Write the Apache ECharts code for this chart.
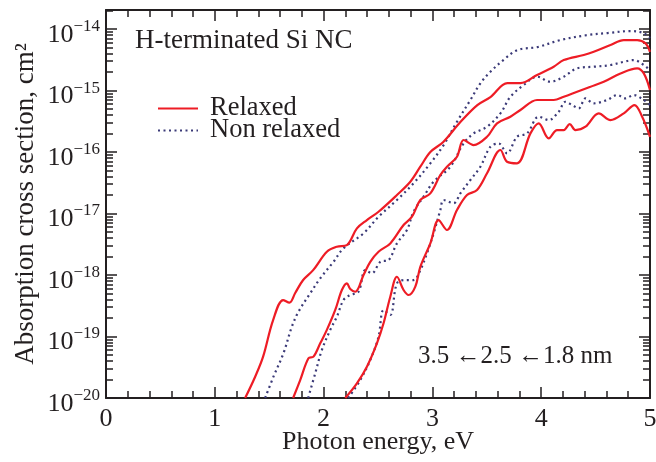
<!DOCTYPE html>
<html><head><meta charset="utf-8">
<script src="https://cdn.jsdelivr.net/npm/echarts@6/dist/echarts.min.js"></script>
<style>html,body{margin:0;padding:0;background:#fff}#c{width:656px;height:462px}</style>
</head><body><div id="c"></div>
<script>
// ---- data (photon energy eV, absorption cross section cm^2) ----
const relaxed35_x = [1.279,1.371,1.444,1.536,1.628,1.686,1.739,1.812,1.904,2.030,2.122,2.214,2.306,2.398,2.505,2.674,2.797,2.889,2.981,3.100,3.257,3.413,3.533,3.689,3.809,3.962,4.115,4.207,4.391,4.483,4.637,4.759,4.882,4.959,5.0];
const relaxed35_y = [1.0e-20,2.22e-20,4.70e-20,1.85e-19,3.92e-19,3.55e-19,5.10e-19,8.29e-19,1.20e-18,2.39e-18,2.89e-18,3.07e-18,5.74e-18,7.83e-18,1.07e-17,2.00e-17,3.29e-17,5.77e-17,1.00e-16,1.46e-16,3.08e-16,5.81e-16,7.83e-16,1.32e-15,1.32e-15,1.79e-15,2.44e-15,3.13e-15,3.78e-15,4.27e-15,5.50e-15,6.62e-15,6.62e-15,5.85e-15,4.27e-15];
const nonrel35_x = [1.463,1.539,1.631,1.708,1.769,1.877,1.969,2.091,2.183,2.367,2.505,2.674,2.827,2.981,3.103,3.226,3.349,3.441,3.533,3.652,3.781,3.965,4.177,4.425,4.609,4.821,4.940,5.0];
const nonrel35_y = [1.0e-20,2.22e-20,5.33e-20,1.44e-19,2.53e-19,5.04e-19,8.83e-19,1.64e-18,2.72e-18,4.76e-18,8.87e-18,1.66e-17,3.10e-17,6.55e-17,1.30e-16,3.11e-16,7.02e-16,1.31e-15,2.02e-15,3.13e-15,4.56e-15,5.09e-15,6.62e-15,7.98e-15,8.61e-15,9.27e-15,8.61e-15,7.14e-15];
const relaxed25_x = [1.720,1.785,1.861,1.907,1.969,2.030,2.107,2.168,2.214,2.245,2.291,2.367,2.429,2.505,2.613,2.735,2.812,2.889,2.981,3.073,3.134,3.226,3.287,3.379,3.502,3.594,3.717,3.809,3.962,4.115,4.207,4.330,4.453,4.575,4.729,4.882,4.943,5.0];
const relaxed25_y = [1.0e-20,1.96e-20,4.43e-20,4.70e-20,7.74e-20,1.28e-19,2.70e-19,5.70e-19,7.33e-19,5.91e-19,5.34e-19,1.00e-18,1.64e-18,2.39e-18,3.27e-18,6.50e-18,8.87e-18,1.66e-17,2.13e-17,4.23e-17,5.77e-17,8.39e-17,1.57e-16,1.30e-16,1.77e-16,2.93e-16,3.75e-16,4.82e-16,7.02e-16,7.02e-16,7.93e-16,9.55e-16,1.15e-15,1.39e-15,1.90e-15,2.30e-15,1.90e-15,1.02e-15];
const nonrel25_x = [1.858,1.923,1.984,2.061,2.122,2.183,2.245,2.321,2.383,2.444,2.521,2.597,2.674,2.766,2.827,2.919,3.011,3.165,3.287,3.379,3.502,3.625,3.717,3.839,3.962,4.085,4.207,4.330,4.483,4.637,4.759,4.851,4.943,5.0];
const nonrel25_y = [1.0e-20,2.52e-20,6.03e-20,1.28e-19,2.10e-19,3.92e-19,4.73e-19,5.34e-19,1.20e-18,1.07e-18,1.64e-18,1.75e-18,3.27e-18,5.40e-18,1.07e-17,1.88e-17,3.29e-17,5.77e-17,1.38e-16,2.01e-16,2.58e-16,4.26e-16,7.93e-16,1.23e-15,1.68e-15,1.39e-15,1.68e-15,2.30e-15,2.44e-15,2.60e-15,2.94e-15,3.13e-15,2.60e-15,2.15e-15];
const relaxed18_x = [2.199,2.306,2.398,2.490,2.551,2.613,2.674,2.735,2.781,2.843,2.889,2.981,3.057,3.134,3.226,3.318,3.410,3.502,3.625,3.686,3.778,3.901,3.977,4.069,4.146,4.207,4.262,4.315,4.407,4.529,4.637,4.759,4.857,4.928,5.0];
const relaxed18_y = [1.0e-20,1.73e-20,3.23e-20,7.74e-20,1.64e-19,4.44e-19,9.38e-19,5.70e-19,4.73e-19,6.46e-19,1.36e-18,3.27e-18,7.83e-18,5.40e-18,1.14e-17,2.00e-17,2.41e-17,4.51e-17,1.08e-16,6.95e-17,6.55e-17,2.01e-16,2.93e-16,1.67e-16,2.28e-16,2.28e-16,2.85e-16,2.28e-16,2.58e-16,4.26e-16,3.31e-16,4.26e-16,5.81e-16,3.75e-16,1.77e-16];
const nonrel18_x = [2.226,2.337,2.429,2.505,2.551,2.613,2.674,2.751,2.827,2.889,2.950,3.011,3.073,3.103,3.195,3.257,3.349,3.441,3.533,3.609,3.686,3.778,3.870,3.977,4.069,4.161,4.223,4.284,4.345,4.407,4.483,4.606,4.698,4.775,4.851,4.943,5.0];
const nonrel18_y = [1.0e-20,1.96e-20,4.15e-20,9.93e-20,2.70e-19,2.24e-19,7.33e-19,8.29e-19,8.29e-19,1.20e-18,2.25e-18,4.76e-18,1.14e-17,1.66e-17,1.47e-17,2.13e-17,3.51e-17,5.77e-17,1.22e-16,1.38e-16,9.53e-17,1.77e-16,2.01e-16,3.75e-16,3.31e-16,4.52e-16,6.57e-16,5.81e-16,5.14e-16,7.47e-16,6.19e-16,7.02e-16,8.45e-16,7.47e-16,8.45e-16,7.02e-16,5.81e-16];

const xTicks = [0,1,2,3,4,5];
const yDecades = [-20,-19,-18,-17,-16,-15,-14];   // exponents of the labelled decades
const yMinExp = -20, yMaxExp = -13.69;

// ---- styling ----
const F = '"Liberation Serif", "Times New Roman", serif';
const INK = '#231f20';
const RED = '#ee1c25';
const NAVY = '#3b3a78';

const minorExp = [];
yDecades.forEach(n => { for (let k = 2; k <= 9; k++) { const v = n + Math.log10(k); if (v <= yMaxExp) minorExp.push(v); } });

const pairs = (xs, ys) => xs.map((x, i) => [x, ys[i]]);
const chart = echarts.init(document.getElementById('c'), null, {renderer: 'canvas'});

function lineSeries(name, xs, ys, relaxed) {
  return {
    name, type: 'line', xAxisIndex: 0, yAxisIndex: 0,
    data: pairs(xs, ys), smooth: 0.35, symbol: 'none', showSymbol: false,
    lineStyle: relaxed ? {color: RED, width: 2.2, type: 'solid'} : {color: NAVY, width: 2.2, type: [2, 3.5]},
    itemStyle: {color: relaxed ? RED : NAVY},
    z: relaxed ? 3 : 2, silent: true
  };
}

const tickAxisY = (pos, values, len, labels) => ({
  type: 'value', position: pos, min: yMinExp, max: yMaxExp, gridIndex: 0,
  axisLine: {show: !!labels, lineStyle: {color: INK, width: 2}},
  splitLine: {show: false},
  axisTick: {show: true, inside: true, length: len, customValues: values, lineStyle: {color: INK, width: 1.5}},
  axisLabel: labels ? {
    show: true, customValues: yDecades, margin: 6, padding: [8, 0, 0, 0],
    formatter: v => '{b|10}{s|\u2212' + Math.abs(Math.round(v)) + '}',
    rich: {
      b: {fontFamily: F, fontSize: 26, color: INK, verticalAlign: 'bottom', lineHeight: 30},
      s: {fontFamily: F, fontSize: 17, color: INK, verticalAlign: 'top', lineHeight: 17}
    }
  } : {show: false}
});

const legendBase = {orient: 'vertical', itemWidth: 40, itemHeight: 14, selectedMode: false,
  itemStyle: {opacity: 0, borderWidth: 0},
  textStyle: {fontFamily: F, fontSize: 26.5, color: INK, lineHeight: 26, padding: [0, 0, 0, 7]}};

const option = {
  animation: false,
  backgroundColor: '#ffffff',
  grid: {left: 106, right: 6, top: 10, bottom: 64, containLabel: false, outerBoundsMode: 'none'},
  legend: [
    Object.assign({data: ['Relaxed'], left: 152, top: 90}, legendBase),
    Object.assign({data: ['Non relaxed'], left: 152, top: 112}, legendBase)
  ],
  xAxis: [
    {type: 'value', position: 'bottom', min: 0, max: 5, interval: 1,
     name: 'Photon energy, eV', nameLocation: 'middle', nameGap: 31, nameMoveOverlap: false,
     nameTextStyle: {fontFamily: F, fontSize: 26, color: INK},
     axisLine: {show: true, lineStyle: {color: INK, width: 2}},
     axisTick: {show: true, inside: true, length: 11, lineStyle: {color: INK, width: 1.5}},
     minorTick: {show: true, splitNumber: 5, length: 7, lineStyle: {color: INK, width: 1.5}},
     splitLine: {show: false}, minorSplitLine: {show: false},
     axisLabel: {show: true, margin: 8, fontFamily: F, fontSize: 26, color: INK,
                 customValues: xTicks, formatter: v => String(v)}},
    {type: 'value', position: 'top', min: 0, max: 5, interval: 1,
     axisLine: {show: true, lineStyle: {color: INK, width: 2}},
     axisTick: {show: true, inside: true, length: 11, lineStyle: {color: INK, width: 1.5}},
     minorTick: {show: true, splitNumber: 5, length: 7, lineStyle: {color: INK, width: 1.5}},
     splitLine: {show: false}, axisLabel: {show: false}}
  ],
  yAxis: [
    {type: 'log', logBase: 10, min: Math.pow(10, yMinExp), max: Math.pow(10, yMaxExp), show: false,
     splitLine: {show: false}},
    Object.assign(tickAxisY('left', yDecades, 11, true), {
      name: 'Absorption cross section, cm\u00b2', nameLocation: 'middle', nameGap: 67, nameMoveOverlap: false,
      nameTextStyle: {fontFamily: F, fontSize: 27, color: INK}
    }),
    tickAxisY('left', minorExp, 7, false),
    Object.assign(tickAxisY('right', yDecades, 11, false), {axisLine: {show: true, lineStyle: {color: INK, width: 2}}}),
    tickAxisY('right', minorExp, 7, false)
  ],
  graphic: [
    {type: 'text', left: 135, top: 27, style: {text: 'H-terminated Si NC', font: '27px ' + F, fill: INK}},
    {type: 'text', left: 418, top: 344, style: {text: '3.5 \u21902.5 \u21901.8 nm', font: '25px ' + F, fill: INK}}
  ],
  series: [
    lineSeries('Relaxed', relaxed35_x, relaxed35_y, true),
    lineSeries('Non relaxed', nonrel35_x, nonrel35_y, false),
    lineSeries('Relaxed', relaxed25_x, relaxed25_y, true),
    lineSeries('Non relaxed', nonrel25_x, nonrel25_y, false),
    lineSeries('Relaxed', relaxed18_x, relaxed18_y, true),
    lineSeries('Non relaxed', nonrel18_x, nonrel18_y, false)
  ]
};
chart.setOption(option);
</script></body></html>
